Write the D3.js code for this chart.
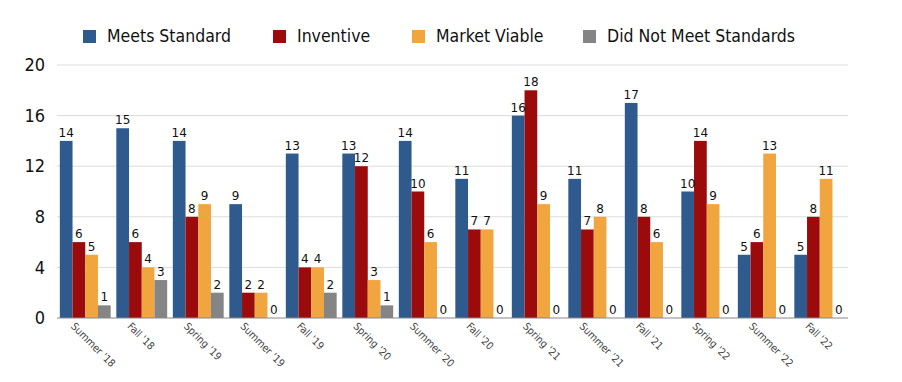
<!DOCTYPE html>
<html><head><meta charset="utf-8">
<script src="https://cdn.jsdelivr.net/npm/d3@7"></script>
<style>body{margin:0;background:#fff}svg{display:block}</style>
</head><body>
<script>
const categories = ["Summer '18","Fall '18","Spring '19","Summer '19","Fall '19","Spring '20","Summer '20","Fall '20","Spring '21","Summer '21","Fall '21","Spring '22","Summer '22","Fall '22"];
const seriesNames = ["Meets Standard","Inventive","Market Viable","Did Not Meet Standards"];
const meetsStandard = [14,15,14,9,13,13,14,11,16,11,17,10,5,5];
const inventive = [6,6,8,2,4,12,10,7,18,7,8,14,6,8];
const marketViable = [5,4,9,2,4,3,6,7,9,8,6,9,13,11];
const didNotMeet = [1,3,2,0,2,1,0,0,0,0,0,0,0,0];
const yTicks = [0,4,8,12,16,20];
const colors = ["#2E5A8E","#9B0B0B","#F0A53F","#858585"];
const seriesValues = [meetsStandard, inventive, marketViable, didNotMeet];

const W=902,H=382;
const m={left:57,right:54,top:65,bottom:64};
const font="'Liberation Sans Narrow','DejaVu Sans Condensed','Liberation Sans',sans-serif";
const svg=d3.select("body").append("svg").attr("width",W).attr("height",H);

const x0=d3.scaleBand().domain(categories).range([m.left,W-m.right]).paddingInner(0.1).paddingOuter(0.05);
const x1=d3.scaleBand().domain(seriesNames).range([0,x0.bandwidth()]);
const y=d3.scaleLinear().domain([0,20]).range([H-m.bottom,m.top]);

// grid
svg.append("g").selectAll("line").data(yTicks.filter(d=>d>0)).join("line")
 .attr("x1",m.left).attr("x2",W-m.right).attr("y1",d=>y(d)).attr("y2",d=>y(d))
 .attr("stroke","#dcdcdc").attr("stroke-width",1);

// y labels
const yAxis=svg.append("g").attr("transform",`translate(${m.left-12},0)`)
 .call(d3.axisLeft(y).tickValues(yTicks).tickSize(0).tickPadding(0));
yAxis.select(".domain").remove();
yAxis.selectAll("text").attr("font-family",font).attr("font-size",18).attr("fill","#111");

// bars
const g=svg.append("g").selectAll("g").data(categories).join("g")
 .attr("transform",d=>`translate(${x0(d)},0)`);
const items=(c,i)=>seriesNames.map((s,k)=>({s,k,v:seriesValues[k][i]}));
g.selectAll("rect").data((c,i)=>items(c,i)).join("rect")
 .attr("x",d=>x1(d.s)).attr("width",x1.bandwidth())
 .attr("y",d=>y(d.v)).attr("height",d=>y(0)-y(d.v))
 .attr("fill",d=>colors[d.k]);
g.selectAll("text").data((c,i)=>items(c,i)).join("text")
 .attr("x",d=>x1(d.s)+x1.bandwidth()/2).attr("y",d=>y(d.v)-4)
 .attr("text-anchor","middle").attr("font-family","'DejaVu Sans',sans-serif").attr("font-size",12)
 .attr("fill","#111").text(d=>d.v);

// baseline
svg.append("line").attr("x1",m.left).attr("x2",W-m.right).attr("y1",y(0)).attr("y2",y(0))
 .attr("stroke","#888").attr("stroke-width",1.2);

// x labels
const xAxis=svg.append("g").attr("transform",`translate(0,${y(0)})`)
 .call(d3.axisBottom(x0).tickSize(0).tickPadding(0));
xAxis.select(".domain").remove();
xAxis.selectAll("text").attr("font-family","'DejaVu Sans Condensed','DejaVu Sans',sans-serif").attr("font-size",10.5).attr("fill","#444")
 .attr("text-anchor","start").attr("dy",0)
 .attr("transform",function(){return "translate(-15,9) rotate(45)";});

// legend
const legX=[83,273,412,583];
const leg=svg.append("g").selectAll("g").data(seriesNames).join("g")
 .attr("transform",(d,i)=>`translate(${legX[i]},30)`);
leg.append("rect").attr("width",13).attr("height",13).attr("fill",(d,i)=>colors[i]);
leg.append("text").attr("x",24).attr("y",12).attr("font-family",font).attr("font-size",17.5).attr("fill","#111").text(d=>d);
</script>
</body></html>
